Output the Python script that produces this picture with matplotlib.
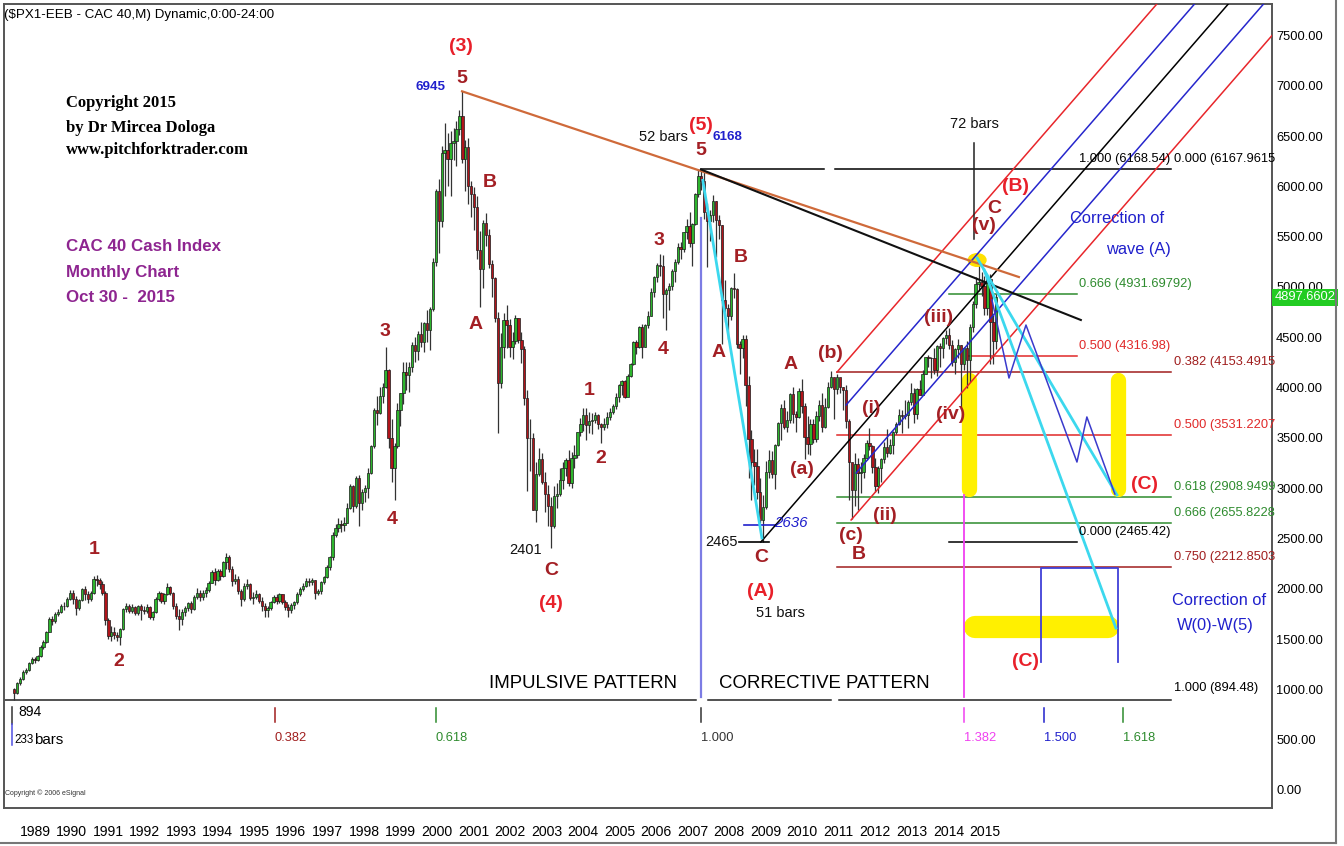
import numpy as np
import matplotlib
matplotlib.use("Agg")
import matplotlib.pyplot as plt
from matplotlib import font_manager
from matplotlib.patches import Ellipse

# CAC 40 monthly bars, Jan 1988 .. Oct 2015 (one row per year)
close = [
    960, 1060, 1100, 1170, 1190, 1260, 1300, 1290, 1330, 1420, 1470, 1574,  # 1988
    1700, 1680, 1750, 1770, 1830, 1830, 1900, 1960, 1900, 1810, 1890, 2001,  # 1989
    1950, 1900, 1960, 2100, 2090, 2050, 1960, 1690, 1530, 1570, 1540, 1518,  # 1990
    1600, 1800, 1830, 1780, 1820, 1760, 1830, 1790, 1780, 1820, 1720, 1766,  # 1991
    1900, 1960, 1880, 1950, 2020, 1960, 1830, 1730, 1700, 1770, 1810, 1858,  # 1992
    1800, 1920, 1960, 1920, 1960, 1990, 2060, 2170, 2090, 2180, 2130, 2268,  # 1993
    2320, 2200, 2080, 2100, 1980, 1900, 2030, 2050, 1910, 1920, 1950, 1881,  # 1994
    1830, 1790, 1810, 1870, 1920, 1880, 1950, 1870, 1820, 1790, 1840, 1872,  # 1995
    1950, 2000, 2030, 2080, 2070, 2090, 1960, 1980, 2070, 2120, 2220, 2316,  # 1996
    2530, 2600, 2640, 2630, 2650, 2800, 3020, 2820, 3100, 2850, 2960, 2999,  # 1997
    3150, 3420, 3780, 3750, 3920, 4010, 4170, 3500, 3200, 3420, 3780, 3943,  # 1998
    4150, 4130, 4200, 4420, 4360, 4530, 4450, 4640, 4570, 4780, 5250, 5958,  # 1999
    5660, 6330, 6360, 6270, 6430, 6450, 6570, 6700, 6270, 6390, 6000, 5926,  # 2000
    5800, 5370, 5180, 5640, 5520, 5230, 5090, 4690, 4050, 4400, 4670, 4625,  # 2001
    4400, 4460, 4690, 4470, 4380, 3900, 3500, 3500, 2780, 3140, 3290, 3064,  # 2002
    2940, 2820, 2620, 2920, 2940, 3080, 3200, 3280, 3050, 3300, 3330, 3558,  # 2003
    3640, 3730, 3630, 3670, 3680, 3730, 3640, 3610, 3640, 3710, 3760, 3821,  # 2004
    3910, 4030, 4070, 3910, 4120, 4230, 4450, 4400, 4600, 4400, 4620, 4715,  # 2005
    4950, 5100, 5220, 5210, 4930, 4970, 5010, 5160, 5250, 5400, 5380, 5542,  # 2006
    5610, 5440, 5630, 5920, 6100, 6050, 5750, 5660, 5720, 5850, 5670, 5614,  # 2007
    4870, 4790, 4710, 4990, 4980, 4430, 4390, 4480, 4030, 3490, 3260, 3218,  # 2008
    2960, 2680, 2810, 3160, 3280, 3140, 3430, 3650, 3800, 3610, 3680, 3936,  # 2009
    3740, 3710, 3970, 3820, 3510, 3440, 3640, 3490, 3720, 3830, 3610, 3805,  # 2010
    4010, 4110, 3990, 4110, 4010, 3980, 3670, 3260, 2980, 3240, 3150, 3160,  # 2011
    3300, 3450, 3420, 3210, 3020, 3200, 3290, 3410, 3350, 3430, 3560, 3641,  # 2012
    3730, 3720, 3730, 3860, 3950, 3740, 3990, 3930, 4140, 4300, 4290, 4296,  # 2013
    4170, 4410, 4390, 4490, 4520, 4420, 4250, 4380, 4420, 4230, 4390, 4273,  # 2014
    4605, 4830, 5030, 5050, 5010, 4790, 5080, 4650, 4460, 4898,              # 2015
]
high = [
    1010, 1070, 1120, 1190, 1210, 1270, 1320, 1320, 1340, 1440, 1490, 1580,
    1720, 1730, 1770, 1800, 1850, 1870, 1920, 1990, 1990, 1930, 1900, 2010,
    2030, 1980, 1980, 2130, 2140, 2110, 2080, 1980, 1710, 1630, 1620, 1570,
    1610, 1810, 1860, 1850, 1850, 1830, 1840, 1850, 1830, 1850, 1830, 1780,
    1920, 1980, 1970, 1960, 2060, 2030, 1970, 1860, 1800, 1800, 1830, 1870,
    1880, 1940, 2010, 1990, 1990, 2020, 2080, 2190, 2210, 2200, 2200, 2280,
    2360, 2340, 2230, 2150, 2130, 2000, 2060, 2100, 2060, 1970, 1990, 1960,
    1920, 1860, 1830, 1880, 1940, 1950, 1960, 1950, 1890, 1850, 1860, 1880,
    1970, 2020, 2060, 2110, 2110, 2110, 2090, 2000, 2080, 2130, 2240, 2330,
    2560, 2640, 2700, 2680, 2710, 2850, 3040, 3030, 3120, 3130, 2990, 3030,
    3200, 3430, 3800, 3920, 4010, 4050, 4404, 4180, 3690, 3450, 3850, 3950,
    4250, 4250, 4250, 4450, 4500, 4560, 4650, 4650, 4770, 4800, 5290, 5970,
    6070, 6400, 6630, 6530, 6550, 6580, 6650, 6760, 6945, 6460, 6480, 6050,
    5990, 5900, 5560, 5670, 5740, 5580, 5270, 5100, 4750, 4540, 4740, 4820,
    4680, 4550, 4720, 4690, 4550, 4410, 3980, 3690, 3550, 3260, 3400, 3350,
    3160, 3030, 2910, 3020, 3050, 3200, 3260, 3300, 3380, 3360, 3430, 3560,
    3700, 3800, 3800, 3760, 3750, 3760, 3740, 3650, 3700, 3760, 3800, 3840,
    3950, 4040, 4080, 4080, 4140, 4240, 4460, 4470, 4610, 4630, 4630, 4760,
    4990, 5110, 5240, 5330, 5320, 4990, 5040, 5180, 5280, 5440, 5450, 5550,
    5680, 5750, 5640, 5930, 6168, 6160, 6140, 5830, 5770, 5910, 5850, 5720,
    5620, 5070, 4830, 5000, 5140, 4990, 4460, 4520, 4520, 4120, 3580, 3390,
    3390, 3100, 2930, 3270, 3380, 3370, 3440, 3660, 3840, 3880, 3770, 3950,
    4010, 3770, 4000, 4090, 3850, 3720, 3690, 3690, 3770, 3880, 3950, 3900,
    4060, 4169, 4100, 4140, 4100, 4010, 4030, 3690, 3250, 3350, 3300, 3260,
    3340, 3480, 3600, 3430, 3300, 3220, 3300, 3460, 3590, 3490, 3570, 3660,
    3790, 3780, 3880, 3880, 4050, 4000, 4000, 4080, 4170, 4300, 4320, 4300,
    4390, 4420, 4440, 4500, 4570, 4590, 4470, 4390, 4480, 4420, 4400, 4460,
    4630, 4860, 5100, 5283, 5150, 5110, 5100, 5130, 4720, 4930,
]
low = [
    894, 950, 1040, 1090, 1150, 1180, 1250, 1260, 1280, 1320, 1400, 1460,
    1570, 1640, 1660, 1730, 1760, 1790, 1820, 1890, 1850, 1740, 1790, 1880,
    1890, 1860, 1880, 1950, 2030, 2000, 1940, 1640, 1500, 1480, 1500, 1480,
    1440, 1590, 1770, 1760, 1760, 1740, 1740, 1690, 1750, 1760, 1700, 1690,
    1760, 1880, 1860, 1850, 1940, 1940, 1800, 1700, 1590, 1640, 1730, 1780,
    1760, 1790, 1900, 1880, 1890, 1920, 1970, 2060, 2040, 2080, 2090, 2120,
    2200, 2170, 2030, 2050, 1950, 1830, 1880, 2000, 1890, 1850, 1900, 1860,
    1780, 1720, 1720, 1790, 1860, 1850, 1860, 1850, 1790, 1720, 1760, 1800,
    1850, 1930, 1980, 2020, 2030, 2040, 1900, 1940, 1950, 2050, 2110, 2190,
    2290, 2510, 2560, 2560, 2570, 2650, 2790, 2760, 2800, 2620, 2780, 2860,
    2900, 3140, 3400, 3630, 3740, 3850, 4000, 3400, 3060, 2881, 3400, 3620,
    3840, 3980, 3960, 4150, 4250, 4270, 4400, 4350, 4450, 4370, 4760, 5210,
    5340, 5600, 5900, 6000, 5900, 6260, 6200, 6510, 6230, 5950, 5820, 5700,
    5570, 5280, 4800, 4990, 5410, 5190, 4900, 4650, 3550, 4000, 4290, 4390,
    4300, 4280, 4430, 4440, 4240, 3830, 2970, 3170, 2780, 2660, 3120, 3040,
    2760, 2620, 2401, 2600, 2800, 2920, 2990, 3120, 3020, 3000, 3200, 3300,
    3520, 3570, 3480, 3550, 3540, 3650, 3590, 3450, 3580, 3600, 3680, 3740,
    3790, 3860, 3930, 3900, 3920, 4110, 4220, 4330, 4390, 4290, 4400, 4590,
    4710, 4900, 5050, 5110, 4690, 4570, 4770, 4970, 5050, 5230, 5280, 5350,
    5480, 5400, 5210, 5620, 5890, 5960, 5680, 5200, 5460, 5650, 5300, 5480,
    4430, 4650, 4480, 4670, 4890, 4390, 4140, 4290, 3820, 3100, 2880, 3030,
    2890, 2650, 2465, 2790, 3100, 3100, 2990, 3420, 3480, 3590, 3560, 3650,
    3650, 3560, 3700, 3750, 3290, 3340, 3330, 3450, 3460, 3670, 3560, 3600,
    3800, 4000, 3690, 3940, 3950, 3780, 3600, 2880, 2694, 2820, 2780, 2950,
    3100, 3280, 3380, 3150, 2960, 2950, 3060, 3250, 3310, 3340, 3340, 3540,
    3630, 3550, 3690, 3600, 3830, 3650, 3690, 3930, 3930, 4140, 4200, 4100,
    4140, 4120, 4200, 4290, 4430, 4380, 4210, 4140, 4290, 3790, 4170, 4000,
    4060, 4550, 4790, 4960, 4910, 4720, 4720, 4230, 4230, 4380,
]
first_open = 1000

years = [str(y) for y in range(1989, 2016)]
price_ticks = list(range(0, 7501, 500))
last_price = 4897.6602

# Elliott wave labels (text, year, price)
wave_labels = [
    ('1', 1990.30, 2386), ('2', 1991.01, 1282), ('3', 1998.52, 4562), ('4', 1998.72, 2684),
    ('5', 2000.70, 7077), ('B', 2001.49, 6034), ('A', 2001.07, 4632), ('C', 2003.21, 2177),
    ('1', 2004.29, 3976), ('2', 2004.62, 3300), ('3', 2006.26, 5467), ('4', 2006.38, 4374),
    ('5', 2007.45, 6352), ('B', 2008.58, 5298), ('A', 2007.96, 4344), ('A', 2009.99, 4225),
    ('(b)', 2011.12, 4334), ('(a)', 2010.30, 3181), ('C', 2009.14, 2316), ('(c)', 2011.69, 2525),
    ('B', 2011.91, 2336), ('(i)', 2012.25, 3797), ('(ii)', 2012.65, 2724), ('(iii)', 2014.17, 4692),
    ('(iv)', 2014.51, 3728), ('(v)', 2015.44, 5616), ('C', 2015.73, 5785),
]
degree_labels = [
    ('(3)', 2000.67, 7395), ('(4)', 2003.21, 1849), ('(5)', 2007.45, 6610),
    ('(A)', 2009.14, 1978), ('(B)', 2016.32, 5994), ('(C)', 2019.99, 3032), ('(C)', 2016.63, 1282),
]
black_notes = [
    ('2401', 2002.48, 2386), ('2465', 2008.04, 2465), ('52 bars', 2006.40, 6491),
    ('72 bars', 2015.16, 6620), ('51 bars', 2009.68, 1759),
]
blue_notes = [('6945', 1999.82, 6988), ('6168', 2008.21, 6491)]

# fibonacci price levels
fib_top = 6168.54
fib_mid_levels = [4931.69792, 4316.98, 2465.42]
fib_mid_text = ['0.666 (4931.69792)', '0.500 (4316.98)', '0.000 (2465.42)']
fib_right_levels = [4153.4915, 3531.2207, 2908.9499, 2655.8228, 2212.8503]
fib_right_text = ['0.382 (4153.4915', '0.500 (3531.2207', '0.618 (2908.9499',
                  '0.666 (2655.8228', '0.750 (2212.8503']
fib_bottom = 894.48

# fibonacci time ratios of the 233 bar impulse
time_ratios = ['0.382', '0.618', '1.000', '1.382', '1.500', '1.618']
time_marks = [1995.41, 1999.96, 2007.45, 2014.88, 2017.14, 2019.37]

# trend lines and projections (year, price)
upper_trend = [(2000.70, 6945), (2016.43, 5099)]
lower_trend = [(2007.45, 6168), (2018.18, 4672)]
drop_2007 = [(2007.50, 6060), (2009.17, 2505)]
target_1 = [(2015.25, 5288), (2019.20, 2932)]
target_2 = [(2015.45, 5168), (2019.17, 1610)]
zigzag_t = [2015.67, 2016.15, 2016.63, 2018.07, 2018.35, 2019.14]
zigzag_p = [4871, 4095, 4622, 3260, 3708, 2942]
box_t = [2017.05, 2017.05, 2019.23, 2019.23]
box_p = [1272, 2207, 2207, 1272]

# pitchfork: start points and common slope (points per year)
fork_starts = [(2011.29, 4153), (2011.55, 3827), (2009.14, 2465), (2011.83, 3151), (2011.69, 2684)]
fork_colors = ['#E8262B', '#2626CC', 'black', '#2626CC', '#E8262B']
fork_slope = 405

target_zone = (2990, 4075)
wave_c_target = 1620
top_2015 = (2015.25, 5268)

# ---------------------------------------------------------------------------
names = {f.name for f in font_manager.fontManager.ttflist}
if 'Liberation Sans Narrow' in names:
    SANS, K = 'Liberation Sans Narrow', 1.0
else:
    SANS, K = 'Liberation Sans', 0.84
plt.rcParams['font.family'] = [SANS, 'DejaVu Sans']

DARK = '#A31F24'
RED = '#E8202A'
BLUE = '#2020CC'
GREEN = '#2E8B2E'

fig = plt.figure(figsize=(13.44, 8.46), dpi=100)
ax = fig.add_axes([4 / 1344, 38 / 846, 1268 / 1344, 804 / 846])
ax.set_xlim(1987.76, 2023.58)
ax.set_ylim(-179, 7813)

# candles
n = len(close)
t = 1988 + (np.arange(n) + 0.5) / 12
c = np.array(close, dtype=float)
o = np.array([first_open] + close[:-1], dtype=float)
up = c >= o
ax.vlines(t, low, high, color='#333333', lw=0.9, zorder=4)
ax.bar(t[up], (c - o)[up], bottom=o[up], width=0.066, color='#2DB52D',
       edgecolor='#1c1c1c', linewidth=0.5, zorder=5)
ax.bar(t[~up], (o - c)[~up], bottom=c[~up], width=0.066, color='#B0141A',
       edgecolor='#1c1c1c', linewidth=0.5, zorder=5)

# horizontal fib lines
ax.plot([2007.45, 2010.92], [fib_top, fib_top], color='black', lw=1.1, zorder=2)
ax.plot([2011.23, 2020.73], [fib_top, fib_top], color='black', lw=1.1, zorder=2)
ax.text(2018.12, fib_top + 40, '1.000 (6168.54)', fontsize=11 * K, va='bottom', zorder=8)
ax.text(2020.81, fib_top + 40, '0.000 (6167.9615', fontsize=11 * K, va='bottom', zorder=8)

mid_cols = [GREEN, '#E02828', 'black']
mid_start = [2014.46, 2015.02, 2014.46]
for lvl, txt, col, s in zip(fib_mid_levels, fib_mid_text, mid_cols, mid_start):
    ax.plot([s, 2018.07], [lvl, lvl], color=col, lw=1.1, zorder=2)
    ax.text(2018.12, lvl + 40, txt, color=col, fontsize=11 * K, va='bottom', zorder=8)

right_cols = ['#A01E1E', '#E02828', GREEN, GREEN, '#A01E1E']
for lvl, txt, col in zip(fib_right_levels, fib_right_text, right_cols):
    ax.plot([2011.29, 2020.73], [lvl, lvl], color=col, lw=1.1, zorder=2)
    ax.text(2020.81, lvl + 40, txt, color=col, fontsize=11 * K, va='bottom', zorder=8)

for a, b in [(1987.76, 2007.31), (2007.65, 2011.12), (2011.35, 2020.73)]:
    ax.plot([a, b], [fib_bottom, fib_bottom], color='#222222', lw=1.1, zorder=2)
ax.text(2020.81, fib_bottom + 60, '1.000 (894.48)', fontsize=11 * K, va='bottom', zorder=8)

# short lines at the 2009 low
ax.plot([2008.52, 2009.37], [2465, 2465], color='black', lw=1.2, zorder=6)
ax.plot([2008.66, 2009.56], [2636, 2636], color=BLUE, lw=1.2, zorder=6)

# pitchfork
for (t0, p0), col in zip(fork_starts, fork_colors):
    ax.plot([t0, 2025], [p0, p0 + fork_slope * (2025 - t0)], color=col, lw=1.1, zorder=6)

# trend lines
ax.plot(*zip(*upper_trend), color='#CF6A3A', lw=1.6, zorder=6)
ax.plot(*zip(*lower_trend), color='#111111', lw=1.5, zorder=6)

# yellow target zones
ax.plot([2015.02, 2015.02], target_zone, color='#FFF000', lw=11, solid_capstyle='round', zorder=3)
ax.plot([2019.23, 2019.23], target_zone, color='#FFF000', lw=11, solid_capstyle='round', zorder=3)
ax.plot([2015.19, 2018.95], [wave_c_target, wave_c_target], color='#FFF000', lw=16,
        solid_capstyle='round', zorder=3)
ax.add_patch(Ellipse(top_2015, 0.5, 125, color='#FFE000', zorder=4))

# cyan projections
for seg in (drop_2007, target_1, target_2):
    ax.plot(*zip(*seg), color='#3CD8EE', lw=2, zorder=7)
ax.plot(zigzag_t, zigzag_p, color='#3A3ACC', lw=1.1, zorder=7)
ax.plot(box_t, box_p, color='#4040D8', lw=1.3, zorder=6)

# vertical markers
ax.plot([2007.45, 2007.45], [925, 5686], color='#7C7CE4', lw=1.6, zorder=3)
ax.plot([2014.88, 2014.88], [925, 2932], color='#F040F0', lw=1.3, zorder=3)
ax.plot([2015.16, 2015.16], [5480, 6431], color='#222222', lw=1.1, zorder=6)

# fib time marks
time_cols = ['#A01E1E', GREEN, '#333333', '#F040F0', BLUE, GREEN]
for r, tm, col in zip(time_ratios, time_marks, time_cols):
    ax.plot([tm, tm], [676, 815], color=col, lw=1.1)
    ax.text(tm, 517, r, color=col, fontsize=11 * K, ha='left', va='center')
ax.plot([1987.99, 1987.99], [656, 825], color='#333333', lw=1.1)
ax.plot([1987.99, 1987.99], [447, 656], color='#5050E0', lw=1.1)
ax.text(1988.18, 775, '894', fontsize=12 * K, va='center')
ax.text(1988.05, 497, '233', fontsize=10 * K, va='center')
ax.text(1988.62, 497, 'bars', fontsize=13 * K, va='center')

# labels
for s, x, y in wave_labels:
    ax.text(x, y, s, color=DARK, fontsize=14, fontweight='bold', ha='center', va='center', zorder=9)
for s, x, y in degree_labels:
    ax.text(x, y, s, color=RED, fontsize=14, fontweight='bold', ha='center', va='center', zorder=9)
for s, x, y in black_notes:
    ax.text(x, y, s, color='#111111', fontsize=12.5 * K, ha='center', va='center', zorder=9)
for s, x, y in blue_notes:
    ax.text(x, y, s, color=BLUE, fontsize=11.5 * K, fontweight='bold', ha='center', va='center', zorder=9)
ax.text(2009.99, 2654, '2636', color=BLUE, fontsize=13 * K, style='italic', ha='center', va='center', zorder=9)

ax.text(2019.20, 5676, 'Correction of', color=BLUE, fontsize=14 * K, ha='center', va='center', zorder=9)
ax.text(2019.82, 5368, 'wave (A)', color=BLUE, fontsize=14 * K, ha='center', va='center', zorder=9)
ax.text(2020.76, 1879, 'Correction of', color=BLUE, fontsize=14 * K, ha='left', va='center', zorder=9)
ax.text(2020.90, 1640, 'W(0)-W(5)', color=BLUE, fontsize=14 * K, ha='left', va='center', zorder=9)

ax.text(2004.12, 1054, 'IMPULSIVE PATTERN', fontsize=16 * K, ha='center', va='center', zorder=9)
ax.text(2010.92, 1054, 'CORRECTIVE PATTERN', fontsize=16 * K, ha='center', va='center', zorder=9)

for s, y in zip(['Copyright 2015', 'by Dr Mircea Dologa', 'www.pitchforktrader.com'], [6829, 6580, 6362]):
    ax.text(1989.51, y, s, family='Liberation Serif', fontweight='bold', fontsize=12,
            ha='left', va='center')
for s, y in zip(['CAC 40 Cash Index', 'Monthly Chart', 'Oct 30 -  2015'], [5407, 5149, 4900]):
    ax.text(1989.51, y, s, color='#8E2590', fontweight='bold', fontsize=14.5 * K,
            ha='left', va='center')
ax.text(1987.8, -30, 'Copyright \u00a9 2006 eSignal', fontsize=5, color='#333333', va='center')

# axes
ax.yaxis.tick_right()
ax.set_yticks(price_ticks)
ax.set_yticklabels([f'{p:.2f}' for p in price_ticks])
ax.tick_params(axis='y', length=0, pad=3, labelsize=11 * K)
ax.set_xticks(np.linspace(1988.64, 2015.47, len(years)))
ax.set_xticklabels(years)
ax.tick_params(axis='x', length=0, pad=12, labelsize=12 * K)
for sp in ax.spines.values():
    sp.set_color('#555555')
    sp.set_linewidth(1.4)

ax.text(1.002, last_price, '4897.6602', transform=ax.get_yaxis_transform(), color='white',
        fontsize=11 * K, ha='left', va='center', clip_on=False, zorder=10,
        bbox=dict(boxstyle='square,pad=0.2', fc='#22CC22', ec='none'))

fig.text(4 / 1344, 1 - 15 / 846, '($PX1-EEB - CAC 40,M) Dynamic,0:00-24:00', fontsize=11.5 * K,
         ha='left', va='center')
fig.add_artist(plt.Line2D([1336 / 1344, 1336 / 1344], [3 / 846, 1], color='#777777', lw=1.5))
fig.add_artist(plt.Line2D([0, 1336 / 1344], [3 / 846, 3 / 846], color='#777777', lw=1.5))

fig.savefig('out.png', dpi=100)
